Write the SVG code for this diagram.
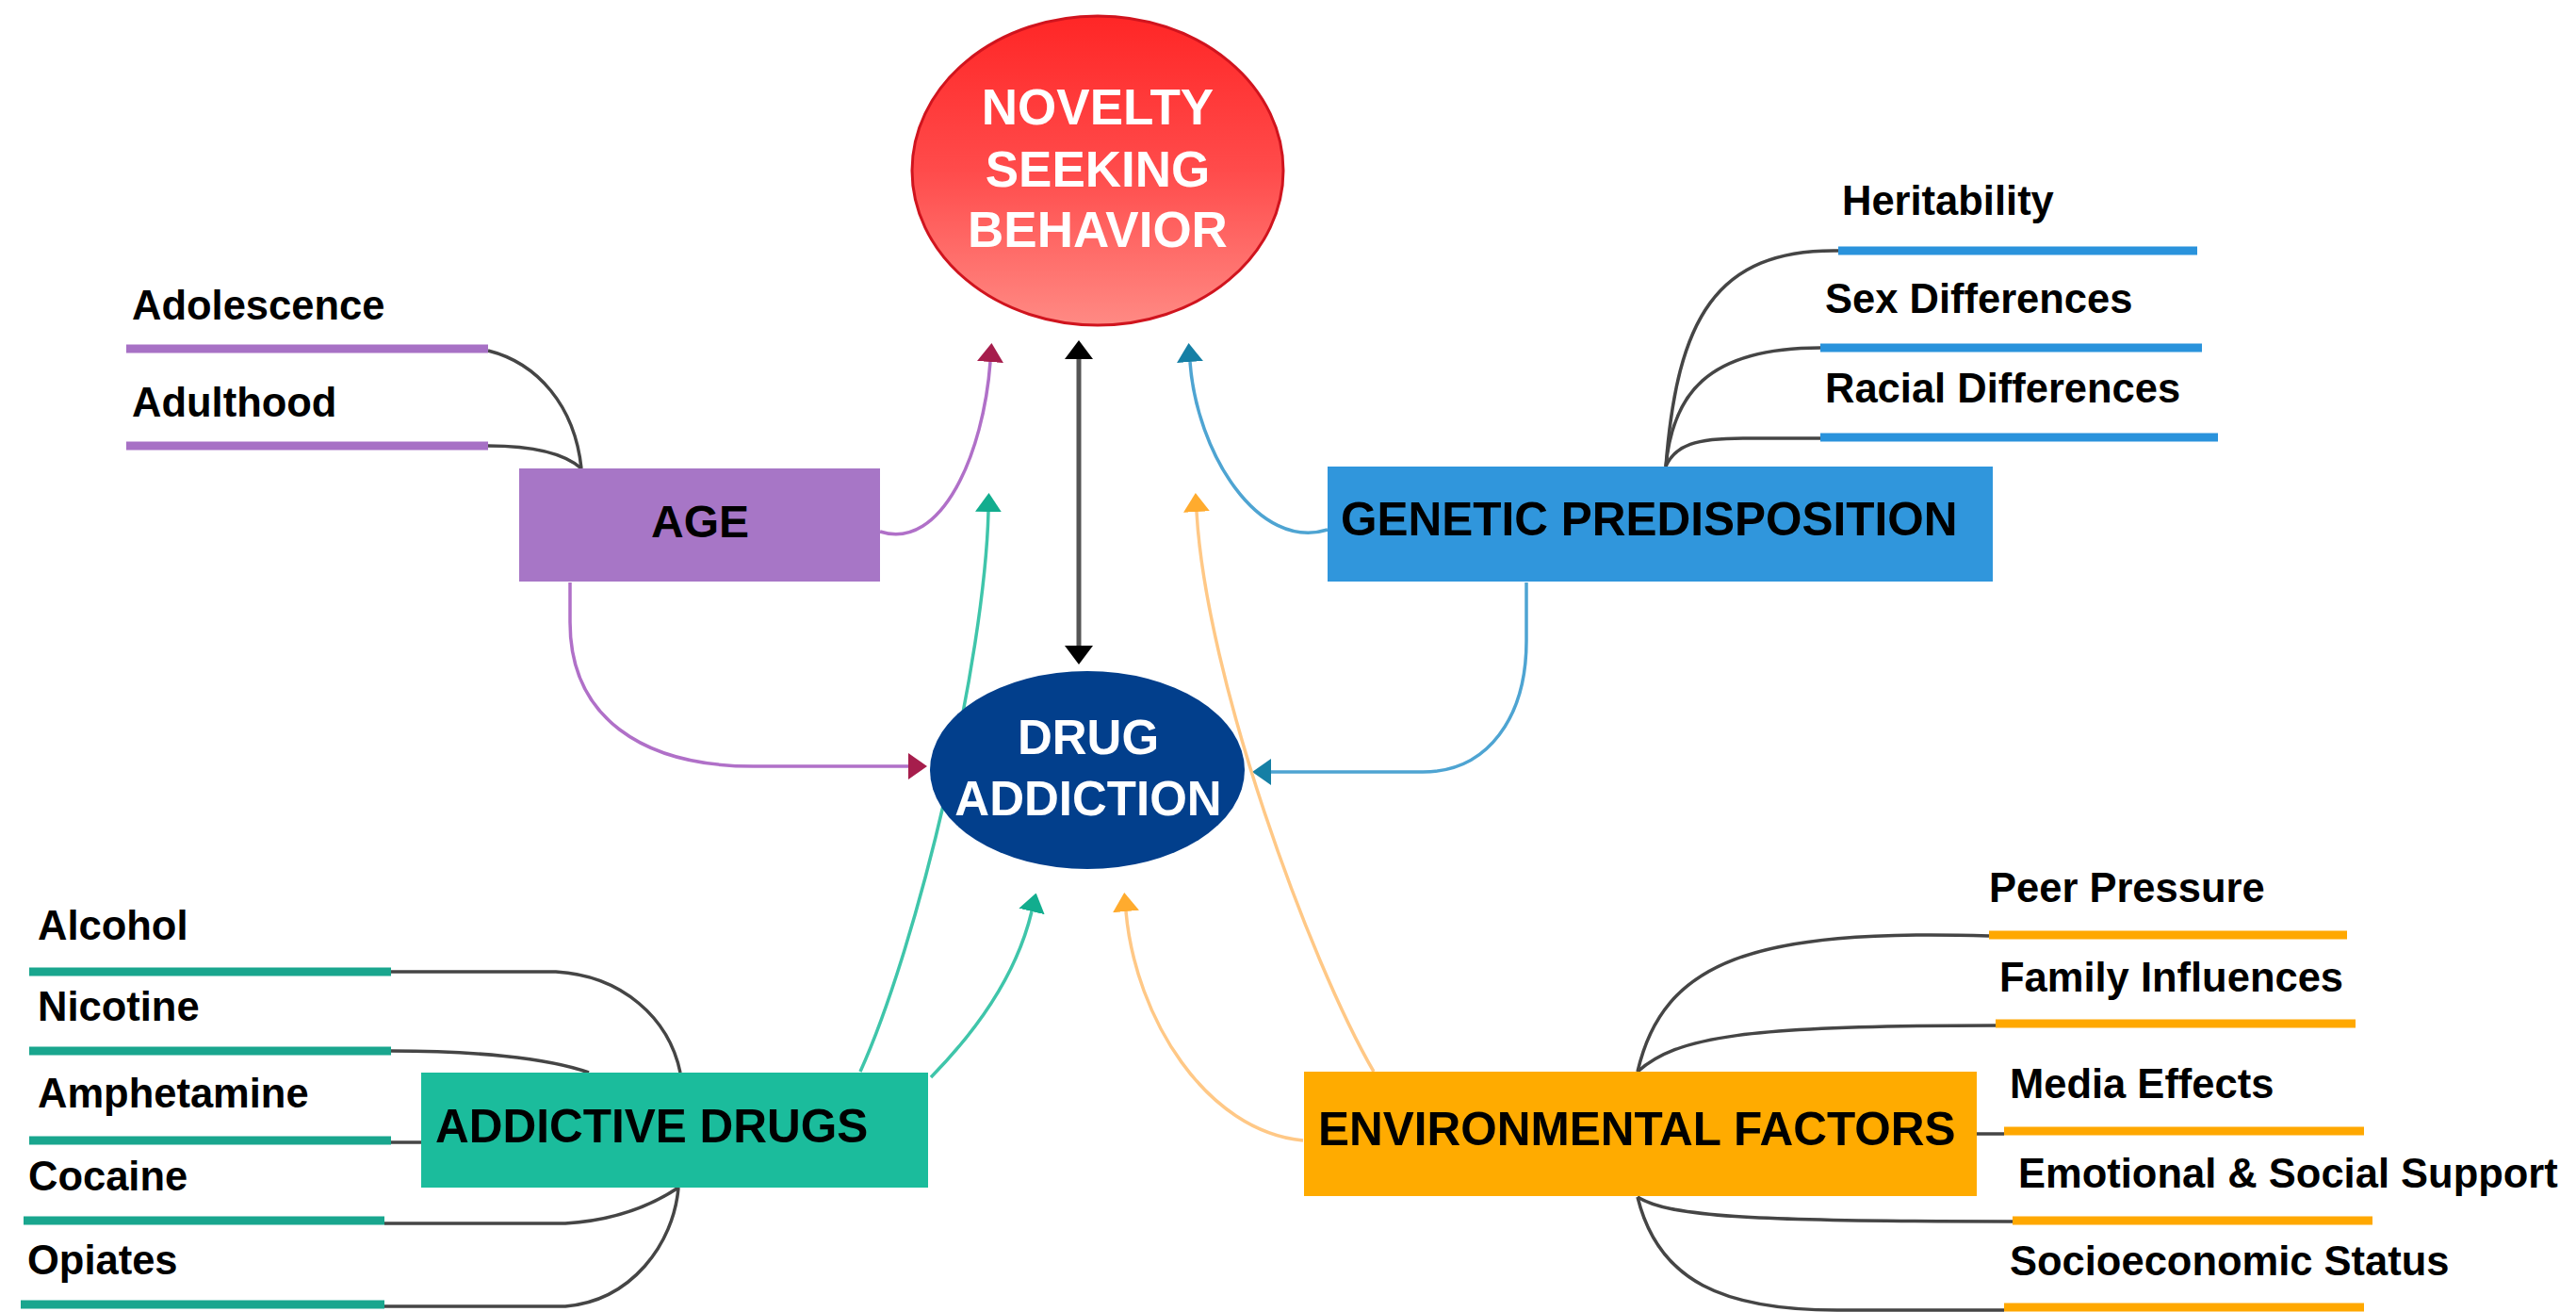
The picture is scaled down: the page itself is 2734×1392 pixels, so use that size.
<svg xmlns="http://www.w3.org/2000/svg" width="2734" height="1392" viewBox="0 0 2734 1392">
<defs>
<linearGradient id="gNov" x1="0" y1="0" x2="0" y2="1">
<stop offset="0" stop-color="#ff2626"/>
<stop offset="0.5" stop-color="#ff4b4b"/>
<stop offset="1" stop-color="#ff8a84"/>
</linearGradient>
<marker id="ahK" markerUnits="userSpaceOnUse" markerWidth="20" markerHeight="30" viewBox="0 0 20 30" refX="0" refY="15" orient="auto-start-reverse"><path d="M0,0 L20,15 L0,30 z" fill="#000"/></marker>
<marker id="ahP" markerUnits="userSpaceOnUse" markerWidth="20" markerHeight="28" viewBox="0 0 20 28" refX="0" refY="14" orient="auto"><path d="M0,0 L20,14 L0,28 z" fill="#a61d4c"/></marker>
<marker id="ahB" markerUnits="userSpaceOnUse" markerWidth="20" markerHeight="28" viewBox="0 0 20 28" refX="0" refY="14" orient="auto"><path d="M0,0 L20,14 L0,28 z" fill="#157fa5"/></marker>
<marker id="ahT" markerUnits="userSpaceOnUse" markerWidth="20" markerHeight="28" viewBox="0 0 20 28" refX="0" refY="14" orient="auto"><path d="M0,0 L20,14 L0,28 z" fill="#12ad8e"/></marker>
<marker id="ahO" markerUnits="userSpaceOnUse" markerWidth="20" markerHeight="28" viewBox="0 0 20 28" refX="0" refY="14" orient="auto"><path d="M0,0 L20,14 L0,28 z" fill="#ffab2e"/></marker>
</defs>
<style>
text{font-family:"Liberation Sans",Arial,Helvetica,sans-serif;font-weight:bold}
.item{font-size:43.5px;fill:#000}
.main{font-size:49.5px;fill:#000}
.white{fill:#fff;text-anchor:middle}
.branch{fill:none;stroke:#454545;stroke-width:3.5}
.bp{stroke:#a771c5;stroke-width:9}
.bb{stroke:#2a93dc;stroke-width:9}
.bt{stroke:#19a68e;stroke-width:9}
.bo{stroke:#ffa800;stroke-width:9}
.cP{fill:none;stroke:#b070c8;stroke-width:3.5}
.cB{fill:none;stroke:#4ea4d2;stroke-width:3.5}
.cT{fill:none;stroke:#3fc5aa;stroke-width:3.5}
.cO{fill:none;stroke:#ffc886;stroke-width:3.5}
</style>
<rect width="2734" height="1392" fill="#fff"/>

<g id="connectors">
<line x1="1145" y1="381" x2="1145" y2="685" stroke="#555" stroke-width="5" marker-start="url(#ahK)" marker-end="url(#ahK)"/>
<path class="cP" d="M934 564 C1000 585 1044 480 1051 384" marker-end="url(#ahP)"/>
<path class="cP" d="M605 618 L605 660 C605 760 680 813 800 813 L964 813" marker-end="url(#ahP)"/>
<path class="cB" d="M1409 562 C1335 585 1270 480 1263 384" marker-end="url(#ahB)"/>
<path class="cB" d="M1620 618 L1620 680 C1620 760 1580 819 1510 819 L1349 819" marker-end="url(#ahB)"/>
<path class="cT" d="M913 1137 C975 1000 1045 700 1049 543" marker-end="url(#ahT)"/>
<path class="cT" d="M988 1143 C1040 1090 1080 1030 1095 967" marker-end="url(#ahT)"/>
<path class="cO" d="M1458 1137 C1390 1020 1280 720 1270 543" marker-end="url(#ahO)"/>
<path class="cO" d="M1383 1210 C1280 1200 1205 1080 1195 967" marker-end="url(#ahO)"/>

<path class="branch" d="M518 372 C570 385 610 430 617 497"/>
<path class="branch" d="M518 473 C570 473 600 482 617 497"/>
<path class="branch" d="M1768 495 C1780 340 1820 264 1951 266"/>
<path class="branch" d="M1768 495 C1775 420 1810 369 1932 369"/>
<path class="branch" d="M1768 495 C1778 472 1800 465 1850 465 L1932 465"/>
<path class="branch" d="M415 1031 L590 1031 C660 1035 710 1080 722 1138"/>
<path class="branch" d="M415 1115 C500 1115 580 1122 625 1138"/>
<path class="branch" d="M415 1212 L448 1212"/>
<path class="branch" d="M408 1298 L600 1298 C650 1295 690 1280 720 1260"/>
<path class="branch" d="M408 1386 L600 1386 C670 1380 715 1320 720 1260"/>
<path class="branch" d="M1738 1137 C1765 1020 1860 985 2111 993"/>
<path class="branch" d="M1738 1137 C1780 1100 1850 1088 2118 1088"/>
<path class="branch" d="M2098 1203 L2127 1203"/>
<path class="branch" d="M1738 1270 C1770 1290 1850 1296 2136 1296"/>
<path class="branch" d="M1738 1270 C1760 1360 1830 1390 1950 1390 L2127 1390"/>
</g>

<g id="novelty">
<ellipse cx="1165" cy="181" rx="197" ry="164" fill="url(#gNov)" stroke="#d0141e" stroke-width="3"/>
<text class="white" x="1165" y="132" font-size="53">NOVELTY</text>
<text class="white" x="1165" y="198" font-size="53">SEEKING</text>
<text class="white" x="1165" y="262" font-size="53">BEHAVIOR</text>
</g>

<g id="drug-addiction">
<ellipse cx="1154" cy="817" rx="167" ry="105" fill="#023f8c"/>
<text class="white" x="1155" y="800" font-size="51">DRUG</text>
<text class="white" x="1155" y="865" font-size="51">ADDICTION</text>
</g>

<g id="age">
<rect x="551" y="497" width="383" height="120" fill="#a776c6"/>
<text x="743" y="570" font-size="48" text-anchor="middle">AGE</text>
<line class="bp" x1="134" y1="370" x2="518" y2="370"/>
<text class="item" x="140" y="339">Adolescence</text>
<line class="bp" x1="134" y1="473" x2="518" y2="473"/>
<text class="item" x="140" y="442">Adulthood</text>
</g>

<g id="genetic">
<rect x="1409" y="495" width="706" height="122" fill="#3096dc"/>
<text class="main" x="1423" y="568">GENETIC PREDISPOSITION</text>
<line class="bb" x1="1951" y1="266" x2="2332" y2="266"/>
<text class="item" x="1955" y="228">Heritability</text>
<line class="bb" x1="1932" y1="369" x2="2337" y2="369"/>
<text class="item" x="1937" y="332">Sex Differences</text>
<line class="bb" x1="1932" y1="464" x2="2354" y2="464"/>
<text class="item" x="1937" y="427">Racial Differences</text>
</g>

<g id="addictive-drugs">
<rect x="447" y="1138" width="538" height="122" fill="#1bbc9c"/>
<text class="main" x="462" y="1212">ADDICTIVE DRUGS</text>
<line class="bt" x1="31" y1="1031" x2="415" y2="1031"/>
<text class="item" x="40" y="997">Alcohol</text>
<line class="bt" x1="31" y1="1115" x2="415" y2="1115"/>
<text class="item" x="40" y="1083">Nicotine</text>
<line class="bt" x1="31" y1="1210" x2="415" y2="1210"/>
<text class="item" x="40" y="1175">Amphetamine</text>
<line class="bt" x1="25" y1="1295" x2="408" y2="1295"/>
<text class="item" x="30" y="1263">Cocaine</text>
<line class="bt" x1="22" y1="1384" x2="408" y2="1384"/>
<text class="item" x="29" y="1352">Opiates</text>
</g>

<g id="environmental">
<rect x="1384" y="1137" width="714" height="132" fill="#ffab00"/>
<text class="main" x="1399" y="1215" font-size="50">ENVIRONMENTAL FACTORS</text>
<line class="bo" x1="2111" y1="992" x2="2491" y2="992"/>
<text class="item" x="2111" y="957">Peer Pressure</text>
<line class="bo" x1="2118" y1="1086" x2="2500" y2="1086"/>
<text class="item" x="2122" y="1052">Family Influences</text>
<line class="bo" x1="2127" y1="1200" x2="2509" y2="1200"/>
<text class="item" x="2133" y="1165">Media Effects</text>
<line class="bo" x1="2136" y1="1295" x2="2518" y2="1295"/>
<text class="item" x="2142" y="1260">Emotional &amp; Social Support</text>
<line class="bo" x1="2127" y1="1387" x2="2509" y2="1387"/>
<text class="item" x="2133" y="1353">Socioeconomic Status</text>
</g>
</svg>
